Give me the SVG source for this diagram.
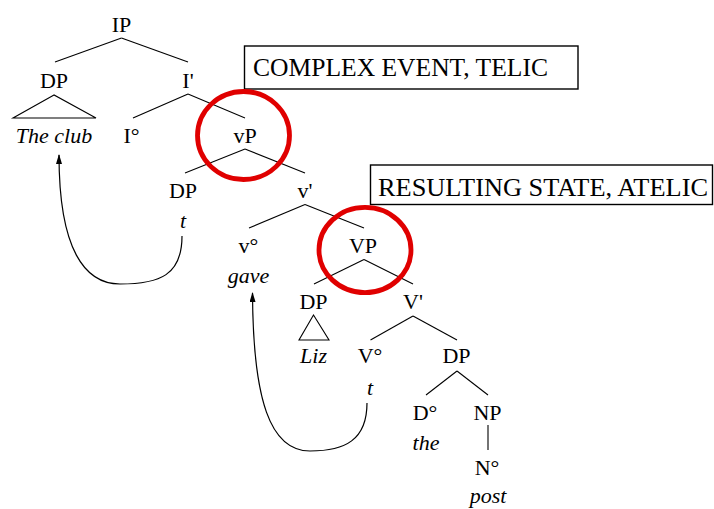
<svg xmlns="http://www.w3.org/2000/svg" width="714" height="509" viewBox="0 0 714 509" font-family="Liberation Serif, Times New Roman, serif">
<style>
text{font-size:22px;fill:#000;text-anchor:middle}
.it{font-style:italic}
.box text{font-size:25.5px;text-anchor:start}
.box rect{fill:#fff;stroke:#000;stroke-width:1.4}
.edges line,.edges polygon{stroke:#000;stroke-width:1.1;fill:none}
.moves path{stroke:#000;stroke-width:1.2;fill:none;marker-end:url(#ah)}
.ring{fill:none;stroke:#e00000;stroke-width:4.8}
</style>
<defs>
<marker id="ah" viewBox="0 0 10 6" refX="9" refY="3" markerWidth="10" markerHeight="6" markerUnits="userSpaceOnUse" orient="auto">
<path d="M0,0 L10,3 L0,6 Z" fill="#000"/>
</marker>
</defs>
<g id="edges" class="edges">
<line x1="121.5" y1="38" x2="55" y2="62"/>
<line x1="121.5" y1="38" x2="188" y2="62"/>
<polygon points="54,95 13,118 96,118"/>
<line x1="188" y1="94" x2="133" y2="118"/>
<line x1="188" y1="94" x2="245" y2="118"/>
<line x1="245" y1="149" x2="185" y2="173"/>
<line x1="245" y1="149" x2="305" y2="173"/>
<line x1="305" y1="204.5" x2="249" y2="228"/>
<line x1="305" y1="204.5" x2="364" y2="228"/>
<line x1="364" y1="259.5" x2="314" y2="284"/>
<line x1="364" y1="259.5" x2="413" y2="284"/>
<polygon points="313.5,315 299,340 329,340"/>
<line x1="413" y1="316" x2="370.5" y2="340"/>
<line x1="413" y1="316" x2="457" y2="340"/>
<line x1="457" y1="371" x2="426" y2="395"/>
<line x1="457" y1="371" x2="488" y2="395"/>
<line x1="488" y1="425" x2="488" y2="450"/>
</g>
<g id="moves" class="moves">
<path d="M182,236 C182,275 160,284 120,284 C85,284 59,250 59,155"/>
<path d="M367,403 C367,440 345,451 310,451 C270,451 253,400 252.5,293"/>
</g>
<g id="n-IP"><text x="121.5" y="31.5">IP</text></g>
<g id="n-DP1"><text x="54" y="87.5">DP</text></g>
<g id="n-theclub"><text class="it" x="54" y="142.5">The club</text></g>
<g id="n-Ibar"><text x="188" y="87.5">I'</text></g>
<g id="n-I0"><text x="131.5" y="142.5">I°</text></g>
<g id="n-vP"><text x="245" y="143">vP</text></g>
<g id="n-DP2"><text x="183" y="197.5">DP</text></g>
<g id="n-t1"><text class="it" x="183" y="228">t</text></g>
<g id="n-vbar"><text x="305" y="197.5">v'</text></g>
<g id="n-v0"><text x="248.5" y="253">v°</text></g>
<g id="n-gave"><text class="it" x="248.5" y="283">gave</text></g>
<g id="n-VP"><text x="363" y="253">VP</text></g>
<g id="n-DP3"><text x="313.5" y="309">DP</text></g>
<g id="n-Liz"><text class="it" x="313.5" y="363">Liz</text></g>
<g id="n-Vbar"><text x="413" y="309">V'</text></g>
<g id="n-V0"><text x="370" y="363">V°</text></g>
<g id="n-t2"><text class="it" x="370" y="395">t</text></g>
<g id="n-DP4"><text x="456.5" y="363">DP</text></g>
<g id="n-D0"><text x="425" y="420">D°</text></g>
<g id="n-the"><text class="it" x="426" y="450">the</text></g>
<g id="n-NP"><text x="487.5" y="420">NP</text></g>
<g id="n-N0"><text x="487" y="475">N°</text></g>
<g id="n-post"><text class="it" x="488" y="503">post</text></g>
<g id="box-complex" class="box">
<rect x="244.5" y="46" width="333.5" height="43"/>
<text x="253" y="76" textLength="295" lengthAdjust="spacingAndGlyphs">COMPLEX EVENT, TELIC</text>
</g>
<g id="box-resulting" class="box">
<rect x="370.5" y="165" width="342" height="39.5"/>
<text x="378" y="196" textLength="330" lengthAdjust="spacingAndGlyphs">RESULTING STATE, ATELIC</text>
</g>
<g id="ring-vP"><ellipse class="ring" cx="243.5" cy="135.5" rx="46" ry="44"/></g>
<g id="ring-VP"><ellipse class="ring" cx="365" cy="250" rx="46" ry="42.6"/></g>
</svg>
